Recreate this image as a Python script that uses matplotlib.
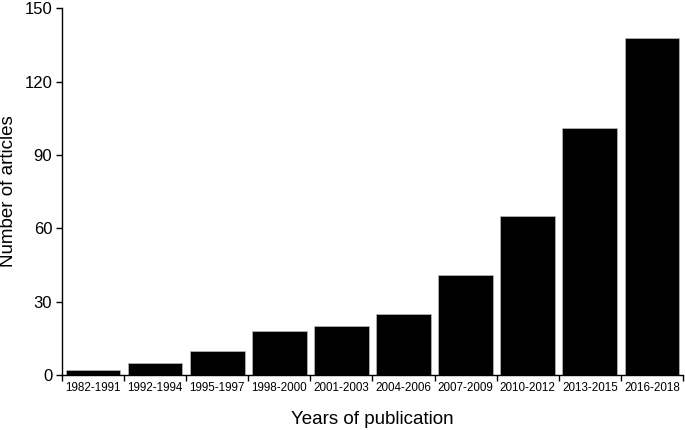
import matplotlib
matplotlib.use("Agg")
import matplotlib.pyplot as plt
import numpy as np

categories = ["1982-1991", "1992-1994", "1995-1997", "1998-2000", "2001-2003",
              "2004-2006", "2007-2009", "2010-2012", "2013-2015", "2016-2018"]
counts = [2, 5, 10, 18, 20, 25, 41, 65, 101, 138]
yticks = [0, 30, 60, 90, 120, 150]

plt.rcParams['font.family'] = ['Liberation Sans', 'DejaVu Sans']

fig = plt.figure(figsize=(6.85, 4.3), dpi=100)
ax = fig.add_axes([0.0905, 0.128, 0.9065, 0.853])

x = np.arange(len(categories))
ax.bar(x, counts, width=0.88, color='black', edgecolor='#bbbbbb', linewidth=0.5)

ax.set_xlim(-0.5, len(categories) - 0.5)
ax.set_ylim(0, 150)
ax.set_yticks(yticks)
ax.set_yticklabels([str(t) for t in yticks], fontsize=12)

ax.set_xticks(np.arange(-0.5, len(categories), 1.0))
ax.set_xticklabels([])
ax.set_xticks(x, minor=True)
ax.set_xticklabels(categories, minor=True, fontsize=8.4)
ax.tick_params(axis='x', which='minor', length=0, pad=5)
ax.tick_params(axis='x', which='major', length=4, width=1, direction='out')
ax.tick_params(axis='y', length=4, width=1, direction='out', pad=3)

for s in ['top', 'right']:
    ax.spines[s].set_visible(False)
ax.spines['left'].set_linewidth(1)
ax.spines['bottom'].set_linewidth(1)

ax.set_ylabel("Number of articles", fontsize=13.5, labelpad=5)
ax.set_xlabel("Years of publication", fontsize=13.5, labelpad=12)

fig.savefig("out.png", dpi=100)
